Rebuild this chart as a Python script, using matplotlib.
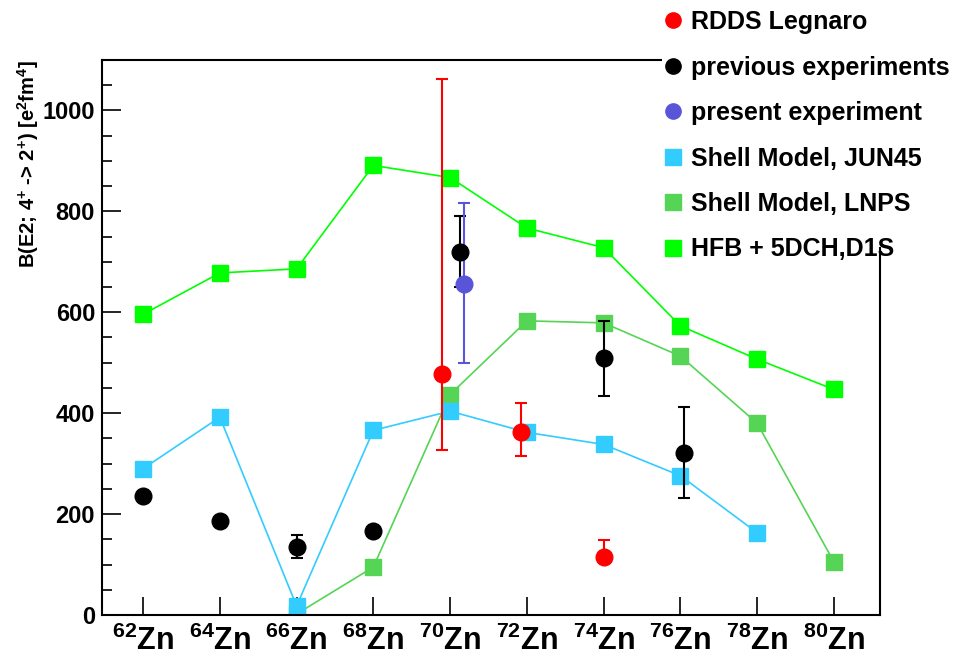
import numpy as np
import matplotlib.pyplot as plt
from matplotlib.patches import Rectangle
from matplotlib.lines import Line2D

plt.rcParams['font.family'] = ['Liberation Sans', 'DejaVu Sans']
plt.rcParams['font.weight'] = 'bold'
plt.rcParams['mathtext.fontset'] = 'custom'
plt.rcParams['mathtext.rm'] = 'Liberation Sans:bold'
plt.rcParams['mathtext.it'] = 'Liberation Sans:bold'
plt.rcParams['mathtext.bf'] = 'Liberation Sans:bold'

# dados
A_all = [62, 64, 66, 68, 70, 72, 74, 76, 78, 80]

hfb = [596, 678, 686, 891, 867, 767, 728, 573, 507, 447]

A_lnps = [66, 68, 70, 72, 74, 76, 78, 80]
lnps = [2, 95, 437, 583, 579, 513, 380, 105]

A_jun = [62, 64, 66, 68, 70, 72, 74, 76, 78]
jun45 = [290, 392, 18, 366, 404, 362, 338, 276, 163]

# previous experiments
A_prev = [62, 64, 66, 68, 70.25, 74, 76.1]
prev = [235, 187, 135, 167, 720, 509, 322]
prev_lo = [0, 0, 23, 0, 70, 75, 91]
prev_hi = [0, 0, 23, 0, 70, 73, 90]

# present experiment
A_pres = [70.35]
pres = [656]
pres_lo = [157]
pres_hi = [161]

# RDDS Legnaro
A_rdds = [69.8, 71.85, 74]
rdds = [477, 362, 115]
rdds_lo = [149, 46, 0]
rdds_hi = [585, 58, 34]

c_hfb = '#00ff00'
c_lnps = '#55d455'
c_jun = '#33ccff'
c_prev = 'black'
c_pres = '#5a55d8'
c_rdds = '#ff0000'

fig = plt.figure(figsize=(9.73, 6.67), dpi=100)
ax = fig.add_axes([102/973, 52/667, 778/973, 555/667])

ms = 12
ax.plot(A_all, hfb, '-', color=c_hfb, lw=1.2, marker='s', ms=ms)
ax.plot(A_lnps, lnps, '-', color=c_lnps, lw=1.2, marker='s', ms=ms)
ax.plot(A_jun, jun45, '-', color=c_jun, lw=1.2, marker='s', ms=ms)

ax.errorbar(A_prev, prev, yerr=[prev_lo, prev_hi], fmt='o', color=c_prev, ms=ms,
            elinewidth=1.5, capsize=4, capthick=1.5)
ax.errorbar(A_pres, pres, yerr=[pres_lo, pres_hi], fmt='o', color=c_pres, ms=ms,
            elinewidth=1.5, capsize=4, capthick=1.5)
ax.errorbar(A_rdds, rdds, yerr=[rdds_lo, rdds_hi], fmt='o', color=c_rdds, ms=ms,
            elinewidth=1.5, capsize=4, capthick=1.5)

ax.set_xlim(60.93, 81.2)
ax.set_ylim(0, 1100)
ax.set_xticks(A_all)
ax.set_xticklabels([r'$^{%d}$Zn' % a for a in A_all], fontsize=22, fontweight='bold')
ax.set_yticks(np.arange(0, 1001, 200))
ax.set_yticks(np.arange(0, 1101, 50), minor=True)
ax.tick_params(axis='y', which='major', direction='in', length=14, width=1.2, labelsize=17, pad=5)
ax.tick_params(axis='y', which='minor', direction='in', length=7, width=1.2)
ax.tick_params(axis='x', which='major', direction='in', length=13, width=1.2, pad=8)
for lab in ax.get_yticklabels():
    lab.set_fontweight('bold')
for s in ax.spines.values():
    s.set_linewidth(1.5)

ax.set_ylabel(r'B(E2; 4$^{+}$ -> 2$^{+}$) [e$^{2}$fm$^{4}$]', fontsize=14.5, fontweight='bold', loc='top')
ax.yaxis.set_label_coords(-0.078, 1.0)

# caixa branca da legenda
fig.patches.append(Rectangle((662/973, 1 - 247/667), 1, 1, transform=fig.transFigure,
                             facecolor='white', edgecolor='none', zorder=3))

labels = ['RDDS Legnaro', 'previous experiments', 'present experiment',
          'Shell Model, JUN45', 'Shell Model, LNPS', 'HFB + 5DCH,D1S']
cores = [c_rdds, c_prev, c_pres, c_jun, c_lnps, c_hfb]
marcas = ['o', 'o', 'o', 's', 's', 's']
handles = [Line2D([], [], ls='none', marker=m, color=c, ms=11) for m, c in zip(marcas, cores)]
leg = fig.legend(handles, labels, loc='upper left',
                 bbox_to_anchor=(654/973, 1 - 0/667), frameon=False, fontsize=18,
                 labelspacing=0.86, handlelength=0.7, handletextpad=0.38, borderaxespad=0)
leg.set_zorder(4)
for t in leg.get_texts():
    t.set_fontweight('bold')

fig.savefig('out.png', dpi=100)
